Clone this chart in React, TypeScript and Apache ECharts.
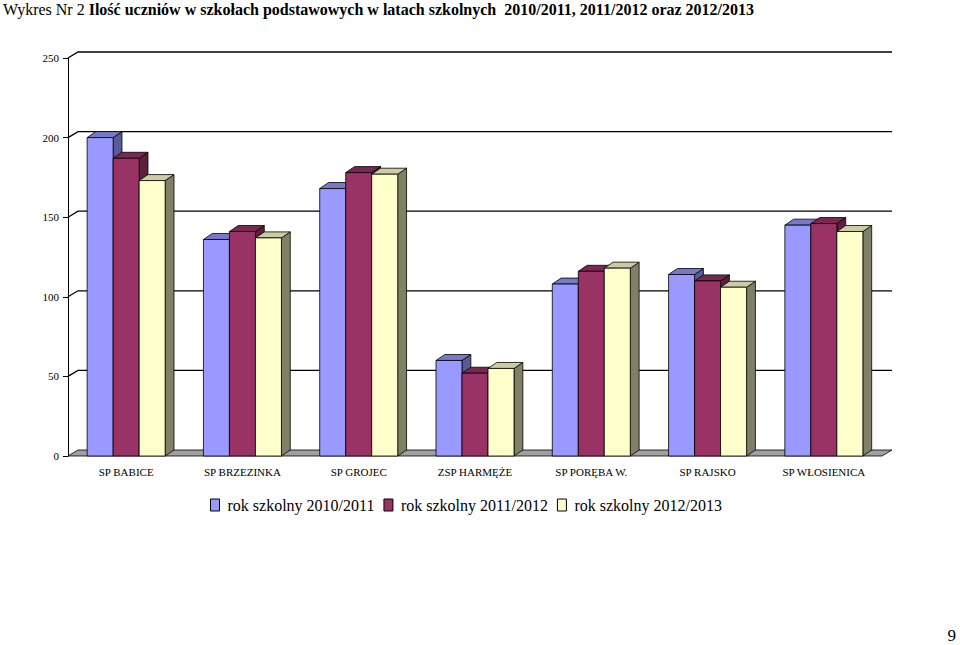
import React, { useEffect, useRef } from "react";
import * as echarts from "echarts";

const categories = [
  "SP BABICE",
  "SP BRZEZINKA",
  "SP GROJEC",
  "ZSP HARMĘŻE",
  "SP PORĘBA W.",
  "SP RAJSKO",
  "SP WŁOSIENICA",
];
const seriesNames = [
  "rok szkolny 2010/2011",
  "rok szkolny 2011/2012",
  "rok szkolny 2012/2013",
];
const values2010 = [200, 136, 168, 60, 108, 114, 145];
const values2011 = [187, 141, 178, 52, 116, 110, 146];
const values2012 = [173, 137, 177, 55, 118, 106, 141];
const yTicks = [50, 100, 150, 200, 250];

const frontColors = ["#9999FF", "#993366", "#FFFFCC"];
const topColors = ["#7878C8", "#7A2851", "#CCCCA3"];
const sideColors = ["#5A5A99", "#5C1F3D", "#808066"];

const FONT = "Liberation Serif";
const DX = 10;
const DY = -6;

export default function App() {
  const ref = useRef<HTMLDivElement>(null);
  useEffect(() => {
    if (!ref.current) return;
    const chart = echarts.init(ref.current, null, { renderer: "svg" });
    const allValues = [values2010, values2011, values2012];

    const barSeries = allValues.map((vals, si) => ({
      type: "custom",
      name: seriesNames[si],
      z: 5,
      clip: false,
      itemStyle: { color: frontColors[si], borderColor: "#000", borderWidth: 1 },
      data: vals.map((v, ci) => [ci, v]),
      encode: { x: 0, y: 1 },
      renderItem: (params: any, api: any) => {
        const cat = api.value(0);
        const v = api.value(1);
        const base = api.coord([cat, 0]);
        const top = api.coord([cat, v]);
        const band = api.size([1, 0])[0];
        const w = band * 0.2236;
        const dx = w * 0.34;
        const dy = DY;
        const x0 = base[0] - 1.5 * w + si * w;
        const ty = top[1];
        const by = base[1];
        const stroke = { stroke: "#000", lineWidth: 0.8 };
        return {
          type: "group",
          children: [
            {
              type: "polygon",
              shape: {
                points: [
                  [x0 + w, ty],
                  [x0 + w + dx, ty + dy],
                  [x0 + w + dx, by + dy],
                  [x0 + w, by],
                ],
              },
              style: { fill: sideColors[si], ...stroke },
            },
            {
              type: "polygon",
              shape: {
                points: [
                  [x0, ty],
                  [x0 + w, ty],
                  [x0 + w + dx, ty + dy],
                  [x0 + dx, ty + dy],
                ],
              },
              style: { fill: topColors[si], ...stroke },
            },
            {
              type: "rect",
              shape: { x: x0, y: ty, width: w, height: by - ty },
              style: { fill: frontColors[si], ...stroke },
            },
          ],
        };
      },
    }));

    const option: any = {
      animation: false,
      backgroundColor: "#fff",
      title: {
        left: 3,
        top: 0,
        padding: [1, 0, 0, 0],
        text:
          "{a|Wykres Nr 2 }{b|Ilość uczniów w szkołach podstawowych w latach szkolnych  2010/2011, 2011/2012 oraz 2012/2013}",
        textStyle: {
          fontFamily: FONT,
          fontWeight: "normal",
          fontSize: 16,
          rich: {
            a: { fontFamily: FONT, fontSize: 16, fontWeight: "normal", color: "#000" },
            b: { fontFamily: FONT, fontSize: 16, fontWeight: "bold", color: "#000" },
          },
        },
      },
      legend: {
        left: 210,
        top: 497,
        data: seriesNames,
        icon: "rect",
        itemWidth: 9,
        itemHeight: 12,
        itemGap: 9,
        padding: 0,
        selectedMode: false,
        itemStyle: { borderColor: "#000", borderWidth: 1 },
        textStyle: {
          fontFamily: FONT,
          fontSize: 16,
          fontWeight: "normal",
          color: "#000",
          padding: [0, 0, 0, 3],
        },
      },
      grid: { left: 68, right: 78, top: 58, bottom: 189, containLabel: false },
      xAxis: {
        type: "category",
        data: categories,
        axisLine: { show: false },
        axisTick: { show: false },
        axisLabel: { margin: 10, fontFamily: FONT, fontSize: 11, color: "#000", interval: 0 },
        splitLine: { show: false },
      },
      yAxis: {
        type: "value",
        min: 0,
        max: 250,
        interval: 50,
        axisLine: { show: true, lineStyle: { color: "#000", width: 1 } },
        axisTick: { show: true, length: 5, lineStyle: { color: "#000" } },
        axisLabel: { margin: 9, fontFamily: FONT, fontSize: 11, color: "#000" },
        splitLine: { show: false },
      },
      series: [
        {
          type: "custom",
          name: "grid",
          z: 1,
          clip: false,
          silent: true,
          data: yTicks.map((t) => [0, t]),
          encode: { x: 0, y: 1 },
          renderItem: (params: any, api: any) => {
            const cs = params.coordSys;
            const y = api.coord([0, api.value(1)])[1];
            return {
              type: "polyline",
              shape: {
                points: [
                  [cs.x, y],
                  [cs.x + DX, y + DY],
                  [cs.x + cs.width + DX, y + DY],
                ],
              },
              style: { stroke: "#000", lineWidth: 1.3, fill: null },
            };
          },
        },
        {
          type: "custom",
          name: "floor",
          z: 2,
          clip: false,
          silent: true,
          data: [[0, 0]],
          encode: { x: 0, y: 1 },
          renderItem: (params: any, api: any) => {
            const cs = params.coordSys;
            const y = api.coord([0, 0])[1];
            return {
              type: "polygon",
              shape: {
                points: [
                  [cs.x, y],
                  [cs.x + cs.width, y],
                  [cs.x + cs.width + DX, y + DY],
                  [cs.x + DX, y + DY],
                ],
              },
              style: { fill: "#A0A0A0", stroke: "#000", lineWidth: 0.8 },
            };
          },
        },
        ...barSeries,
      ],
      graphic: [
        {
          type: "text",
          right: 4,
          bottom: 1,
          style: { text: "9", fontFamily: FONT, fontSize: 17, fill: "#000" },
        },
      ],
    };
    chart.setOption(option);
    return () => chart.dispose();
  }, []);
  return (
    <div
      ref={ref}
      style={{ position: "absolute", left: 0, top: 0, width: 960, height: 645, background: "#fff" }}
    />
  );
}
